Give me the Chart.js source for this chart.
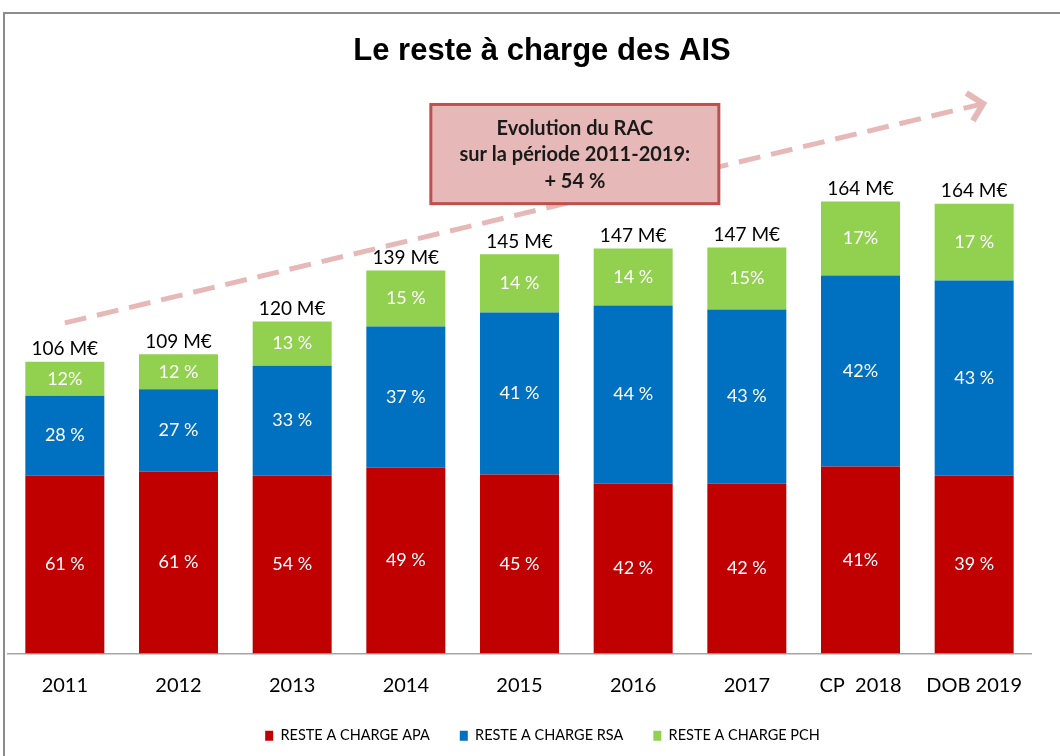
<!DOCTYPE html>
<html>
<head>
<meta charset="utf-8">
<script src="https://cdn.jsdelivr.net/npm/chart.js@4.4.1/dist/chart.umd.min.js"></script>
<style>
  html, body { margin: 0; background: #fff; }
</style>
</head>
<body>
<canvas id="myChart" width="1060" height="756"></canvas>
<script>
// categories
const years = ['2011', '2012', '2013', '2014', '2015', '2016', '2017', 'CP  2018', 'DOB 2019']
// reste a charge, in M€
const apa = [64.6, 66.1, 64.6, 67.5, 65.0, 61.7, 61.7, 67.9, 64.6]
const rsa = [29.0, 29.8, 39.9, 51.2, 58.8, 64.6, 63.2, 69.3, 70.8]
const pch = [12.3, 12.7, 16.0, 20.3, 21.1, 20.7, 22.5, 26.9, 27.9]
// labels printed on the chart
const totals = ['106 M€', '109 M€', '120 M€', '139 M€', '145 M€', '147 M€', '147 M€', '164 M€', '164 M€']
const apaPct = ['61 %', '61 %', '54 %', '49 %', '45 %', '42 %', '42 %', '41%', '39 %']
const rsaPct = ['28 %', '27 %', '33 %', '37 %', '41 %', '44 %', '43 %', '42%', '43 %']
const pchPct = ['12%', '12 %', '13 %', '15 %', '14 %', '14 %', '15%', '17%', '17 %']
const chartTitle = 'Le reste à charge des AIS'
const noteLines = ['Evolution du RAC', 'sur la période 2011-2019:', '+ 54 %']

const ctx = document.getElementById('myChart')
const baseFont = 'Lato, Calibri, Carlito, sans-serif'

const data = {
  labels: years,
  datasets: [
    { label: 'RESTE A CHARGE APA', data: apa, backgroundColor: '#C00000', pct: apaPct },
    { label: 'RESTE A CHARGE RSA', data: rsa, backgroundColor: '#0070C0', pct: rsaPct },
    { label: 'RESTE A CHARGE PCH', data: pch, backgroundColor: '#92D050', pct: pchPct },
  ],
}

// frame, title, dashed arrow, note box, value labels
const decor = {
  id: 'decor',
  afterLayout: chart => {
    // legend sits a little right of centre in the original
    chart.legend.left += 23
    chart.legend.right += 23
  },
  beforeDraw: chart => {
    const c = chart.ctx
    c.save()
    c.fillStyle = '#fff'
    c.fillRect(0, 0, chart.width, chart.height)
    c.strokeStyle = '#8c8c8c'
    c.lineWidth = 2
    c.beginPath()
    c.moveTo(4, chart.height)
    c.lineTo(4, 13)
    c.lineTo(chart.width, 13)
    c.stroke()
    // title
    c.fillStyle = '#000'
    c.font = 'bold 31px "Liberation Sans", Arial, sans-serif'
    c.textAlign = 'center'
    c.textBaseline = 'alphabetic'
    c.fillText(chartTitle, 542, 60)
    c.restore()
  },
  afterDatasetsDraw: chart => {
    const c = chart.ctx
    const xs = chart.scales.x
    const ys = chart.scales.y

    // segment percentages
    c.save()
    c.font = '18px ' + baseFont
    c.textAlign = 'center'
    c.textBaseline = 'middle'
    c.fillStyle = '#fff'
    chart.data.datasets.forEach((ds, i) => {
      chart.getDatasetMeta(i).data.forEach((bar, j) => {
        c.fillText(ds.pct[j], bar.x, (bar.y + bar.base) / 2)
      })
    })
    // totals
    c.fillStyle = '#000'
    c.font = '19px ' + baseFont
    c.textBaseline = 'bottom'
    const top = chart.getDatasetMeta(2).data
    top.forEach((bar, j) => c.fillText(totals[j], bar.x, bar.y - 3))

    // dashed trend arrow
    const x0 = xs.getPixelForValue(0)
    const y0 = ys.getPixelForValue(120)
    const x1 = xs.getPixelForValue(8) + 9
    const y1 = ys.getPixelForValue(199.6)
    c.strokeStyle = '#E6B9B8'
    c.lineWidth = 5
    c.setLineDash([22, 11])
    c.beginPath()
    c.moveTo(x0, y0)
    c.lineTo(x1 - 4, y1 + 1)
    c.stroke()
    c.setLineDash([])
    const ang = Math.atan2(y1 - y0, x1 - x0)
    c.lineWidth = 6
    c.beginPath()
    c.moveTo(x1 - 20 * Math.cos(ang - 0.8), y1 - 20 * Math.sin(ang - 0.8))
    c.lineTo(x1, y1)
    c.lineTo(x1 - 20 * Math.cos(ang + 0.8), y1 - 20 * Math.sin(ang + 0.8))
    c.stroke()

    // note box
    const bl = xs.getPixelForValue(3) + 25
    const br = xs.getPixelForValue(6) - 28
    const bt = ys.getPixelForValue(199.3)
    const bb = ys.getPixelForValue(163.3)
    c.fillStyle = '#E6B8B7'
    c.fillRect(bl, bt, br - bl, bb - bt)
    c.strokeStyle = '#C0504D'
    c.lineWidth = 3
    c.strokeRect(bl, bt, br - bl, bb - bt)
    c.fillStyle = '#1a1a1a'
    c.font = 'bold 20px ' + baseFont
    c.textBaseline = 'middle'
    const cx = (bl + br) / 2
    noteLines.forEach((t, k) => c.fillText(t, cx, bt + 24 + k * 26.5))
    c.restore()
  },
}

const options = {
  animation: false,
  responsive: false,
  layout: {
    padding: { top: 75, left: 8, right: 29, bottom: 3 },
  },
  datasets: {
    bar: {
      barPercentage: 0.695,
      categoryPercentage: 1,
    },
  },
  scales: {
    x: {
      stacked: true,
      grid: { display: false, drawTicks: false, tickLength: 0 },
      border: { display: true, color: '#A6A6A6', width: 1.5 },
      ticks: {
        color: '#000',
        padding: 20,
        font: { family: baseFont, size: 20 },
      },
      afterFit: scale => {
        scale.height = 45
      },
    },
    y: {
      stacked: true,
      display: false,
      min: 0,
      max: 210,
    },
  },
  plugins: {
    title: { display: false },
    legend: {
      position: 'bottom',
      labels: {
        color: '#000',
        boxWidth: 8,
        boxHeight: 10,
        padding: 30,
        font: { family: baseFont, size: 14.5 },
      },
    },
    tooltip: { enabled: false },
  },
}

new Chart(ctx, {
  type: 'bar',
  data,
  plugins: [decor],
  options,
})
</script>
</body>
</html>
